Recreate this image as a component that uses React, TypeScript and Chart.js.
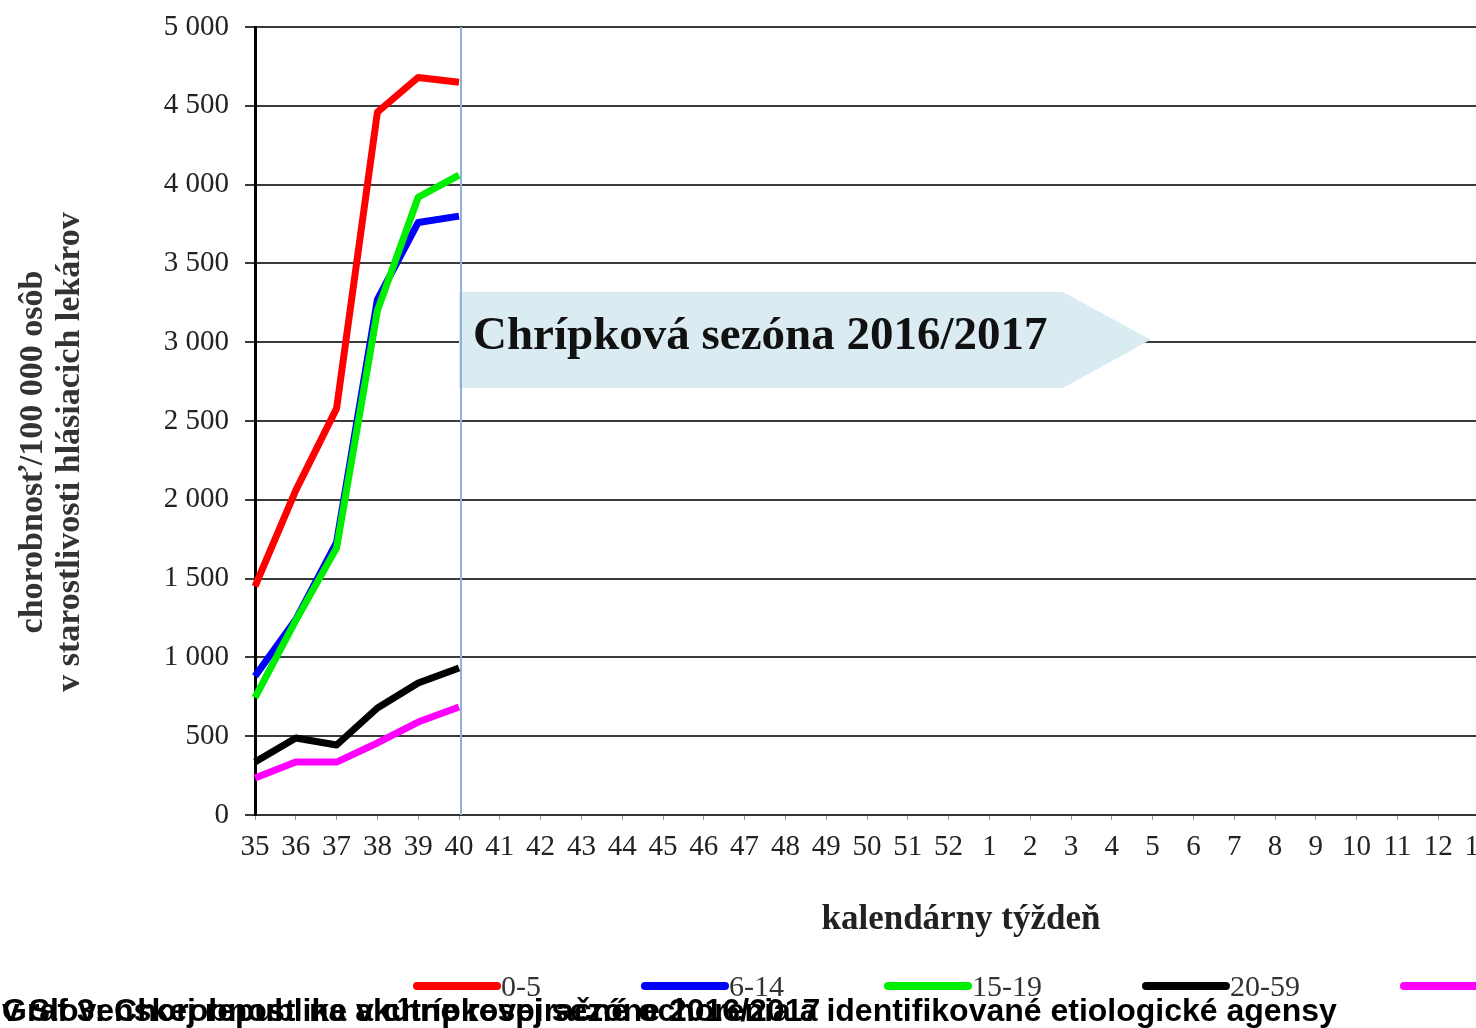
import React, { useEffect, useRef } from "react";
import { Chart, registerables } from "chart.js";

Chart.register(...registerables);

const weeks = [
  "35", "36", "37", "38", "39", "40", "41", "42", "43", "44", "45", "46", "47", "48", "49", "50", "51", "52",
  "1", "2", "3", "4", "5", "6", "7", "8", "9", "10", "11", "12", "13",
];
const ageGroups = ["0-5", "6-14", "15-19", "20-59", "60+"];
const groupColors = ["#ff0000", "#0000ff", "#00ee00", "#000000", "#ff00ff"];
const values0to5 = [1450, 2060, 2580, 4460, 4680, 4650];
const values6to14 = [880, 1240, 1730, 3270, 3760, 3800];
const values15to19 = [745, 1235, 1695, 3200, 3920, 4060];
const values20to59 = [336, 489, 444, 679, 837, 933];
const values60plus = [235, 336, 336, 457, 590, 685];
const yTickValues = [0, 500, 1000, 1500, 2000, 2500, 3000, 3500, 4000, 4500, 5000];

const seasonLabel = "Chrípková sezóna 2016/2017";
const seasonStartIndex = 5;
const seasonBodyEndIndex = 19.8;
const seasonTipIndex = 21.95;
const seasonBandLow = 2710;
const seasonBandHigh = 3320;

const yTitle = ["chorobnosť/100 000 osôb", "v starostlivosti hlásiacich lekárov"];
const xTitle = "kalendárny týždeň";
const captionLine1 = "Graf 3: Chorobnosť na akútne respiračné ochorenia a identifikované etiologické agensy";
const captionLine2 = "v Slovenskej republike v chrípkovej sezóne 2016/2017";

const seriesValues = [values0to5, values6to14, values15to19, values20to59, values60plus];
const drawOrder = [2, 3, 1, 4, 5];

const fmt = (v: number) => {
  const s = String(v);
  return s.length > 3 ? s.slice(0, s.length - 3) + " " + s.slice(-3) : s;
};

const annotationPlugin = {
  id: "season",
  beforeDatasetsDraw(chart: any) {
    const { ctx, chartArea } = chart;
    const x = chart.scales.x;
    const y = chart.scales.y;
    const x0 = x.getPixelForValue(seasonStartIndex);
    const xb = x.getPixelForValue(seasonBodyEndIndex);
    const xt = x.getPixelForValue(seasonTipIndex);
    const yTop = y.getPixelForValue(seasonBandHigh);
    const yBot = y.getPixelForValue(seasonBandLow);
    ctx.save();
    ctx.fillStyle = "#daebf2";
    ctx.beginPath();
    ctx.moveTo(x0, yTop);
    ctx.lineTo(xb, yTop);
    ctx.lineTo(xt, (yTop + yBot) / 2);
    ctx.lineTo(xb, yBot);
    ctx.lineTo(x0, yBot);
    ctx.closePath();
    ctx.fill();
    ctx.fillStyle = "#111";
    ctx.font = "bold 47px 'Liberation Serif', 'Times New Roman', serif";
    ctx.textBaseline = "alphabetic";
    ctx.textAlign = "left";
    ctx.fillText(seasonLabel, x0 + 14, (yTop + yBot) / 2 + 9);
    ctx.strokeStyle = "#8fb0da";
    ctx.lineWidth = 2;
    ctx.beginPath();
    ctx.moveTo(x0 + 2, chartArea.top);
    ctx.lineTo(x0 + 2, chartArea.bottom);
    ctx.stroke();
    ctx.restore();
  },
  afterDraw(chart: any) {
    const { ctx } = chart;
    ctx.save();
    ctx.fillStyle = "#333";
    ctx.font = "bold 34px 'Liberation Serif', 'Times New Roman', serif";
    ctx.textAlign = "center";
    ctx.textBaseline = "middle";
    ctx.translate(0, 452);
    ctx.rotate(-Math.PI / 2);
    ctx.fillText(yTitle[0], 0, 33);
    ctx.fillText(yTitle[1], 0, 70);
    ctx.restore();

    ctx.save();
    ctx.fillStyle = "#222";
    ctx.font = "bold 35px 'Liberation Serif', 'Times New Roman', serif";
    ctx.textAlign = "center";
    ctx.textBaseline = "middle";
    ctx.fillText(xTitle, 961, 920);

    // legend
    let lx = 413;
    const ly = 986;
    ctx.font = "30px 'Liberation Serif', 'Times New Roman', serif";
    ctx.textAlign = "left";
    ctx.textBaseline = "middle";
    chart.data.datasets.forEach((ds: any) => {
      ctx.strokeStyle = ds.borderColor;
      ctx.lineWidth = 8;
      ctx.lineCap = "round";
      ctx.beginPath();
      ctx.moveTo(lx + 4, ly);
      ctx.lineTo(lx + 84, ly);
      ctx.stroke();
      ctx.fillStyle = "#333";
      ctx.fillText(ds.label, lx + 88, ly + 2);
      lx += 88 + ctx.measureText(ds.label).width + 100;
    });

    // caption
    ctx.fillStyle = "#000";
    ctx.font = "bold 32px 'Liberation Sans', Arial, sans-serif";
    ctx.textBaseline = "alphabetic";
    ctx.fillText(captionLine1, 2, 1021);
    ctx.fillText(captionLine2, 2, 1021);
    ctx.restore();
  },
};

export default function App() {
  const ref = useRef<HTMLCanvasElement>(null);
  useEffect(() => {
    if (!ref.current) return;
    const chart = new Chart(ref.current, {
      type: "line",
      data: {
        labels: weeks,
        datasets: ageGroups.map((g, i) => ({
          label: g,
          data: seriesValues[i],
          borderColor: groupColors[i],
          backgroundColor: groupColors[i],
          borderWidth: 7,
          pointRadius: 0,
          tension: 0,
          fill: false,
          order: drawOrder[i],
          borderJoinStyle: "round" as const,
        })),
      },
      options: {
        responsive: false,
        animation: false,
        layout: { padding: { left: 0, top: 27, right: 51, bottom: 0 } },
        plugins: { legend: { display: false }, tooltip: { enabled: false } },
        scales: {
          x: {
            type: "category",
            offset: false,
            afterFit: (s: any) => { s.height = 213; s.paddingLeft = 0; s.paddingRight = 0; },
            grid: { drawOnChartArea: false, drawTicks: true, tickLength: 5, color: "#999", lineWidth: 1 },
            border: { display: true, color: "#333", width: 2 },
            ticks: {
              autoSkip: false,
              maxRotation: 0,
              padding: 10,
              color: "#222",
              font: { family: "'Liberation Serif', 'Times New Roman', serif", size: 29 },
            },
          },
          y: {
            min: 0,
            max: 5000,
            afterFit: (s: any) => { s.width = 255; s.paddingTop = 0; s.paddingBottom = 0; },
            afterBuildTicks: (s: any) => { s.ticks = yTickValues.map((v) => ({ value: v })); },
            grid: { color: "#3a3a3a", lineWidth: 2, tickLength: 10 },
            border: { display: true, color: "#000", width: 3 },
            ticks: {
              padding: 16,
              color: "#222",
              font: { family: "'Liberation Serif', 'Times New Roman', serif", size: 29 },
              callback: (v: any) => fmt(Number(v)),
            },
          },
        },
      },
      plugins: [annotationPlugin],
    } as any);
    return () => chart.destroy();
  }, []);
  return (
    <div style={{ position: "fixed", left: 0, top: 0, width: 1476, height: 1028, overflow: "hidden", background: "#fff" }}>
      <canvas ref={ref} width={1530} height={1028} style={{ display: "block" }} />
    </div>
  );
}
